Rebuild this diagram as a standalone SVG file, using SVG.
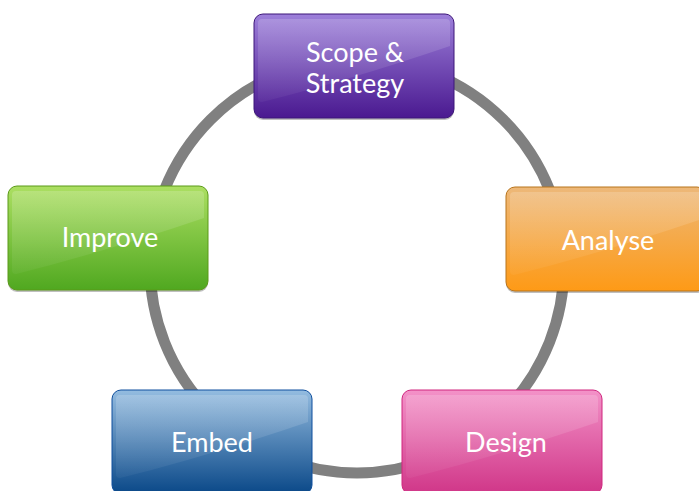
<svg xmlns="http://www.w3.org/2000/svg" width="699" height="491" viewBox="0 0 699 491">
<defs>
<linearGradient id="gP" x1="0" y1="0" x2="0" y2="1"><stop offset="0" stop-color="#9d80da"/><stop offset="1" stop-color="#4a1990"/></linearGradient>
<linearGradient id="gO" x1="0" y1="0" x2="0" y2="1"><stop offset="0" stop-color="#edb879"/><stop offset="1" stop-color="#fe9a16"/></linearGradient>
<linearGradient id="gG" x1="0" y1="0" x2="0" y2="1"><stop offset="0" stop-color="#acdf62"/><stop offset="1" stop-color="#50a820"/></linearGradient>
<linearGradient id="gB" x1="0" y1="0" x2="0" y2="1"><stop offset="0" stop-color="#94bce0"/><stop offset="1" stop-color="#0a4888"/></linearGradient>
<linearGradient id="gK" x1="0" y1="0" x2="0" y2="1"><stop offset="0" stop-color="#f392c8"/><stop offset="1" stop-color="#d03688"/></linearGradient>
<linearGradient id="gl" x1="0" y1="0" x2="0" y2="1"><stop offset="0" stop-color="#fff" stop-opacity="0.18"/><stop offset="1" stop-color="#fff" stop-opacity="0.04"/></linearGradient>
</defs>
<style>
.lbl{font-family:Lato,"Open Sans",sans-serif;font-size:27px;fill:#fff;text-anchor:middle}
.shd{fill:#000;opacity:0.25}
.gloss{fill:url(#gl)}
</style>
<g id="connectors">
<circle cx="357" cy="266" r="207" fill="none" stroke="#808080" stroke-width="11"/>
</g>
<g id="scope">
<rect class="shd" x="254" y="16" width="200" height="104" rx="9"/>
<rect x="254" y="14" width="200" height="104" rx="9" fill="url(#gP)" stroke="#3d1679" stroke-width="1"/>
<path class="gloss" d="M262,19 H446 Q450,19 450,23 V46 Q350,80 262,102 Q258,102 258,98 V23 Q258,19 262,19 Z"/>
<text class="lbl" x="355" y="62">Scope &amp;</text>
<text class="lbl" x="355" y="93">Strategy</text>
</g>
<g id="analyse">
<rect class="shd" x="506" y="189" width="200" height="104" rx="9"/>
<rect x="506" y="187" width="200" height="104" rx="9" fill="url(#gO)" stroke="#b8741c" stroke-width="1"/>
<path class="gloss" d="M514,192 H698 Q702,192 702,196 V219 Q602,253 514,275 Q510,275 510,271 V196 Q510,192 514,192 Z"/>
<text class="lbl" x="608" y="250">Analyse</text>
</g>
<g id="improve">
<rect class="shd" x="8" y="188" width="200" height="104" rx="9"/>
<rect x="8" y="186" width="200" height="104" rx="9" fill="url(#gG)" stroke="#5b9a18" stroke-width="1"/>
<path class="gloss" d="M16,191 H200 Q204,191 204,195 V218 Q104,252 16,274 Q12,274 12,270 V195 Q12,191 16,191 Z"/>
<text class="lbl" x="110" y="247">Improve</text>
</g>
<g id="embed">
<rect x="112" y="390" width="200" height="104" rx="9" fill="url(#gB)" stroke="#0f4f9e" stroke-width="1"/>
<path class="gloss" d="M120,395 H304 Q308,395 308,399 V422 Q208,456 120,478 Q116,478 116,474 V399 Q116,395 120,395 Z"/>
<text class="lbl" x="212" y="452">Embed</text>
</g>
<g id="design">
<rect x="402" y="390" width="200" height="104" rx="9" fill="url(#gK)" stroke="#d0267f" stroke-width="1"/>
<path class="gloss" d="M410,395 H594 Q598,395 598,399 V422 Q498,456 410,478 Q406,478 406,474 V399 Q406,395 410,395 Z"/>
<text class="lbl" x="506" y="452">Design</text>
</g>
</svg>
